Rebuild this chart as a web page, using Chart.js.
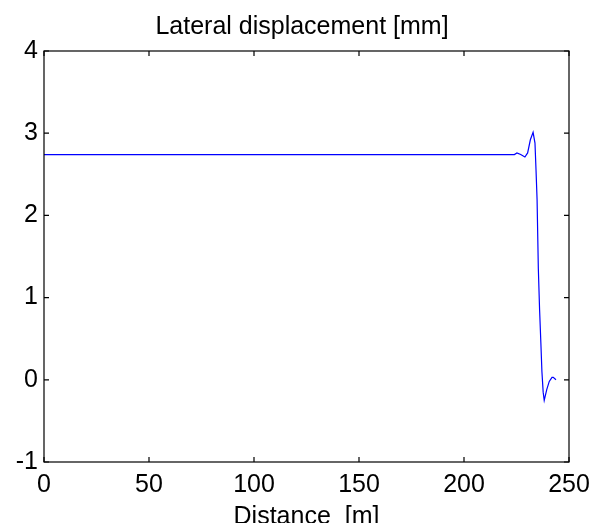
<!DOCTYPE html>
<html>
<head>
<meta charset="utf-8">
<script src="https://cdn.jsdelivr.net/npm/chart.js@4.4.0/dist/chart.umd.min.js"></script>
<style>
  body { margin: 0; background: #fff; }
  #wrap { width: 604px; height: 523px; }
</style>
</head>
<body>
<div id="wrap"><canvas id="dispChart" width="604" height="523"></canvas></div>
<script>
var distance = [0, 224.0, 225.2, 227.0, 229.0, 230.3, 231.6, 232.9, 233.8, 234.3, 234.8, 235.4, 236.0, 236.6, 237.1, 237.7, 238.2, 239.4, 240.6, 241.9, 242.5, 243.8];
var displacement = [2.74, 2.74, 2.76, 2.74, 2.71, 2.76, 2.92, 3.01, 2.88, 2.55, 2.19, 1.35, 0.85, 0.45, 0.10, -0.15, -0.25, -0.12, -0.02, 0.03, 0.03, 0.00];
var xTicks = [0, 50, 100, 150, 200, 250];
var yTicks = [-1, 0, 1, 2, 3, 4];

var fontFamily = "'Liberation Sans', Arial, sans-serif";

var points = [];
for (var i = 0; i < distance.length; i++) {
    points.push({ x: distance[i], y: displacement[i] });
}

// box round the plot with the small ticks pointing inwards
var boxPlugin = {
    id: 'boxPlugin',
    afterDatasetsDraw: function (chart) {
        var ctx = chart.ctx;
        var area = chart.chartArea;
        var xs = chart.scales.x;
        var ys = chart.scales.y;
        var tl = 5;
        ctx.save();
        ctx.strokeStyle = '#000';
        ctx.lineWidth = 1.2;
        ctx.strokeRect(area.left, area.top, area.right - area.left, area.bottom - area.top);
        ctx.beginPath();
        xTicks.forEach(function (t) {
            var px = xs.getPixelForValue(t);
            ctx.moveTo(px, area.bottom);
            ctx.lineTo(px, area.bottom - tl);
            ctx.moveTo(px, area.top);
            ctx.lineTo(px, area.top + tl);
        });
        yTicks.forEach(function (t) {
            var py = ys.getPixelForValue(t);
            ctx.moveTo(area.left, py);
            ctx.lineTo(area.left + tl, py);
            ctx.moveTo(area.right, py);
            ctx.lineTo(area.right - tl, py);
        });
        ctx.stroke();
        ctx.restore();
    }
};

var ctx = document.getElementById('dispChart').getContext('2d');
var chart = new Chart(ctx, {
    type: 'line',
    data: {
        datasets: [{
            label: 'Lateral displacement',
            data: points,
            borderColor: 'rgb(0, 0, 255)',
            borderWidth: 1.2,
            pointRadius: 0,
            tension: 0,
            fill: false
        }]
    },
    options: {
        responsive: false,
        animation: false,
        layout: { padding: 0 },
        plugins: {
            legend: { display: false },
            tooltip: { enabled: false },
            title: {
                display: true,
                text: 'Lateral displacement [mm]',
                color: '#000',
                font: { family: fontFamily, size: 25, weight: 'normal' },
                padding: { top: 12, bottom: 9 }
            }
        },
        scales: {
            x: {
                type: 'linear',
                min: 0,
                max: 250,
                afterBuildTicks: function (scale) {
                    scale.ticks = xTicks.map(function (v) { return { value: v }; });
                },
                afterFit: function (scale) { scale.height = 61; },
                grid: { display: false, drawTicks: false },
                border: { display: false },
                ticks: {
                    color: '#000',
                    maxRotation: 0,
                    padding: 8,
                    font: { family: fontFamily, size: 25 }
                },
                title: {
                    display: true,
                    text: 'Distance  [m]',
                    color: '#000',
                    font: { family: fontFamily, size: 25 },
                    padding: { top: 0, bottom: -9 }
                }
            },
            y: {
                min: -1,
                max: 4,
                afterBuildTicks: function (scale) {
                    scale.ticks = yTicks.map(function (v) { return { value: v }; });
                },
                afterFit: function (scale) { scale.width = 44; },
                grid: { display: false, drawTicks: false },
                border: { display: false },
                ticks: {
                    color: '#000',
                    padding: 6,
                    font: { family: fontFamily, size: 25 }
                }
            },
            // empty right axis, only keeps the white margin on the right
            yRight: {
                position: 'right',
                min: -1,
                max: 4,
                afterFit: function (scale) { scale.width = 35; },
                grid: { display: false, drawTicks: false },
                border: { display: false },
                ticks: { display: false }
            }
        }
    },
    plugins: [boxPlugin]
});
</script>
</body>
</html>
